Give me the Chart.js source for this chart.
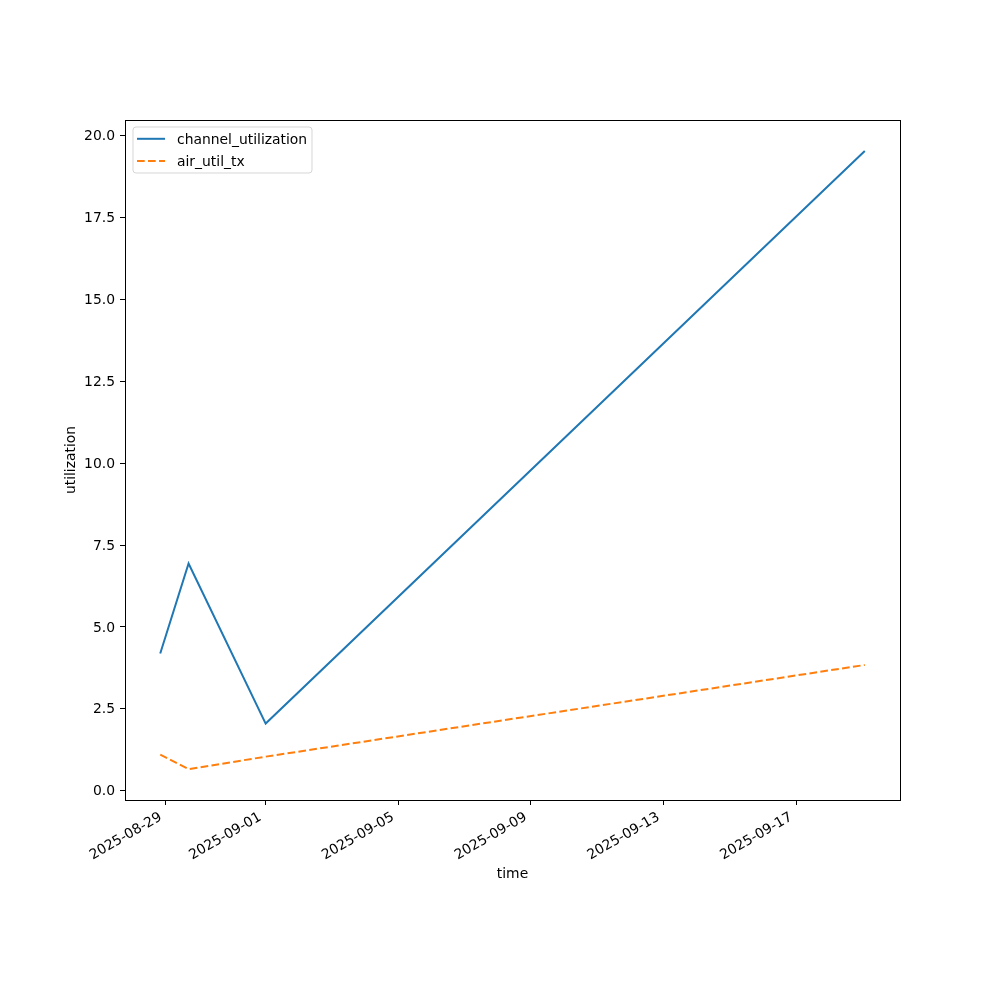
<!DOCTYPE html>
<html>
<head>
<meta charset="utf-8">
<script src="https://cdn.jsdelivr.net/npm/chart.js@4"></script>
<style>
html,body{margin:0;padding:0;background:#fff;}
#wrap{width:1000px;height:1000px;}
</style>
</head>
<body>
<div id="wrap"><canvas id="c" width="1000" height="1000"></canvas></div>
<script>
// ---- data ----
const timeStamps = ['2025-08-28T20:00:00Z', '2025-08-29T16:30:00Z', '2025-09-01T00:15:00Z', '2025-09-19T01:30:00Z'];
const channelUtilization = [4.19, 6.94, 2.05, 19.54];
const airUtilTx = [1.10, 0.66, 1.04, 3.84];
const xTickLabels = ['2025-08-29', '2025-09-01', '2025-09-05', '2025-09-09', '2025-09-13', '2025-09-17'];
const yTickValues = [0.0, 2.5, 5.0, 7.5, 10.0, 12.5, 15.0, 17.5, 20.0];
const seriesNames = ['channel_utilization', 'air_util_tx'];

const FONT = 'DejaVu Sans';
const FS = 13.9;

const tms = timeStamps.map(s => Date.parse(s));
const xmin0 = Math.min(...tms), xmax0 = Math.max(...tms);
const xm = (xmax0 - xmin0) * 0.05;
const allY = channelUtilization.concat(airUtilTx);
const ymin0 = Math.min(...allY), ymax0 = Math.max(...allY);
const ym = (ymax0 - ymin0) * 0.05;

const pad2 = n => String(n).padStart(2, '0');
function fmtDate(v) {
  const d = new Date(v);
  return d.getUTCFullYear() + '-' + pad2(d.getUTCMonth() + 1) + '-' + pad2(d.getUTCDate());
}

const frame = {
  id: 'frame',
  afterDatasetsDraw(chart) {
    const {ctx, chartArea: a} = chart;
    ctx.save();
    ctx.strokeStyle = '#000';
    ctx.lineWidth = 1;
    ctx.strokeRect(Math.round(a.left) + 0.5, Math.round(a.top) + 0.5, Math.round(a.right - a.left), Math.round(a.bottom - a.top));
    ctx.restore();
  },
  afterDraw(chart) {
    const {ctx, chartArea: a} = chart;
    ctx.save();
    const bx = a.left + 8, by = a.top + 7, bw = 179, bh = 46, r = 3;
    ctx.beginPath();
    ctx.moveTo(bx + r, by);
    ctx.arcTo(bx + bw, by, bx + bw, by + bh, r);
    ctx.arcTo(bx + bw, by + bh, bx, by + bh, r);
    ctx.arcTo(bx, by + bh, bx, by, r);
    ctx.arcTo(bx, by, bx + bw, by, r);
    ctx.closePath();
    ctx.fillStyle = 'rgba(255,255,255,0.8)';
    ctx.fill();
    ctx.strokeStyle = 'rgba(204,204,204,0.8)';
    ctx.lineWidth = 1;
    ctx.stroke();
    ctx.font = FS + 'px "' + FONT + '"';
    ctx.textBaseline = 'middle';
    ctx.textAlign = 'left';
    chart.data.datasets.forEach((ds, i) => {
      const yy = by + 11.8 + i * 22.2;
      ctx.beginPath();
      ctx.setLineDash(ds.borderDash || []);
      ctx.strokeStyle = ds.borderColor;
      ctx.lineWidth = ds.borderWidth;
      ctx.moveTo(bx + 4, yy);
      ctx.lineTo(bx + 32, yy);
      ctx.stroke();
      ctx.setLineDash([]);
      ctx.fillStyle = '#000';
      ctx.fillText(ds.label, bx + 44, yy + 1.5);
    });
    ctx.restore();
  }
};

new Chart(document.getElementById('c'), {
  type: 'line',
  data: {
    datasets: [
      {
        label: seriesNames[0],
        data: tms.map((t, i) => ({x: t, y: channelUtilization[i]})),
        borderColor: '#1f77b4',
        borderWidth: 2,
        pointRadius: 0,
        fill: false,
        tension: 0
      },
      {
        label: seriesNames[1],
        data: tms.map((t, i) => ({x: t, y: airUtilTx[i]})),
        borderColor: '#ff7f0e',
        borderWidth: 2,
        borderDash: [7.7, 3.3],
        pointRadius: 0,
        fill: false,
        tension: 0
      }
    ]
  },
  options: {
    responsive: false,
    animation: false,
    layout: {padding: {left: 0, top: 120, right: 100, bottom: 0}},
    plugins: {legend: {display: false}, tooltip: {enabled: false}},
    scales: {
      x: {
        type: 'linear',
        min: xmin0 - xm,
        max: xmax0 + xm,
        afterFit(s) { s.height = 200; },
        afterBuildTicks(s) { s.ticks = xTickLabels.map(l => ({value: Date.parse(l + 'T00:00:00Z')})); },
        grid: {display: true, drawOnChartArea: false, drawTicks: true, tickLength: 5, color: '#000', tickColor: '#000'},
        border: {display: true, color: '#000', width: 1},
        ticks: {
          autoSkip: false,
          minRotation: 30,
          maxRotation: 30,
          padding: 4,
          labelOffset: -5,
          color: '#000',
          font: {family: FONT, size: FS},
          callback: v => fmtDate(v)
        },
        title: {display: true, text: 'time', color: '#000', font: {family: FONT, size: FS}, padding: {top: 0, bottom: 117}}
      },
      y: {
        type: 'linear',
        min: ymin0 - ym,
        max: ymax0 + ym,
        afterFit(s) { s.width = 125; },
        afterBuildTicks(s) { s.ticks = yTickValues.map(v => ({value: v})); },
        grid: {display: true, drawOnChartArea: false, drawTicks: true, tickLength: 5, color: '#000', tickColor: '#000'},
        border: {display: true, color: '#000', width: 1},
        ticks: {
          autoSkip: false,
          padding: 5,
          labelOffset: 1,
          color: '#000',
          font: {family: FONT, size: FS},
          callback: v => Number(v).toFixed(1)
        },
        title: {display: true, text: 'utilization', color: '#000', font: {family: FONT, size: FS}, padding: {top: 63.5, bottom: 0}}
      }
    }
  },
  plugins: [frame]
});
</script>
</body>
</html>
